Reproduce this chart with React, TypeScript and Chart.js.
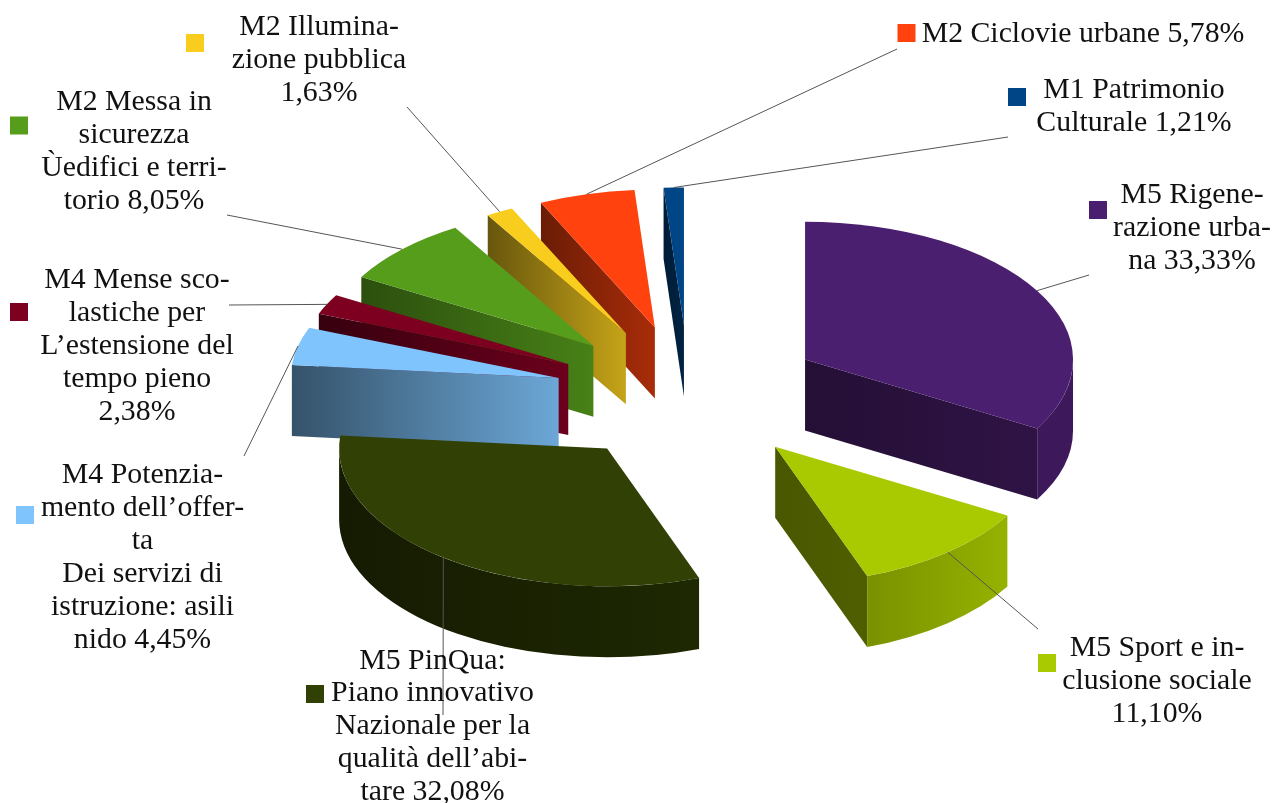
import React, { useEffect, useRef } from "react";
import { Chart, registerables } from "chart.js";

Chart.register(...registerables);

// Slices run clockwise from twelve o'clock.
const categories = [
  "M5 Rigenerazione urbana",
  "M5 Sport e inclusione sociale",
  "M5 PinQua: Piano innovativo Nazionale per la qualità dell’abitare",
  "M4 Potenziamento dell’offerta Dei servizi di istruzione: asili nido",
  "M4 Mense scolastiche per L’estensione del tempo pieno",
  "M2 Messa in sicurezza Ùedifici e territorio",
  "M2 Illuminazione pubblica",
  "M2 Ciclovie urbane",
  "M1 Patrimonio Culturale",
];
const values = [33.33, 11.1, 32.08, 4.45, 2.38, 8.05, 1.63, 5.78, 1.21];
const colors = ["#4b1f6f", "#a9ca00", "#314004", "#7fc4fd", "#7e0021", "#579d1c", "#f8cd1e", "#ff420e", "#004586"];

const labelLines = [
  ["M5 Rigene-", "razione urba-", "na 33,33%"],
  ["M5 Sport e in-", "clusione sociale", "11,10%"],
  ["M5 PinQua:", "Piano innovativo", "Nazionale per la", "qualità dell’abi-", "tare 32,08%"],
  ["M4 Potenzia-", "mento dell’offer-", "ta", "Dei servizi di", "istruzione: asili", "nido 4,45%"],
  ["M4 Mense sco-", "lastiche per", "L’estensione del", "tempo pieno", "2,38%"],
  ["M2 Messa in", "sicurezza", "Ùedifici e terri-", "torio 8,05%"],
  ["M2 Illumina-", "zione pubblica", "1,63%"],
  ["M2 Ciclovie urbane 5,78%"],
  ["M1 Patrimonio", "Culturale 1,21%"],
];

// Layout of the annotations: [text centre x, first baseline y]
const labelAnchors = [[1192, 203], [1157, 656], [432.5, 668.5], [142.5, 483], [137, 288], [134, 110], [319, 35], [1083, 42], [1134, 98]];
const swatchCorners = [[1089, 201], [1038, 654], [306, 685], [16, 506], [10, 303], [10, 116.5], [186, 34], [897.5, 24], [1008, 88]];
const leaderEnds = [[1089, 275], [1038, 629], [443, 715], [244, 456], [229, 305], [227, 215], [407, 107], [897, 49], [1008, 137]];

// Shade factors of the side walls, [left, right]
const radialShade = [[0.48, 0.62], [0.43, 0.47], [0.5, 0.5], [0.42, 0.85], [0.44, 0.85], [0.5, 0.82], [0.42, 0.8], [0.42, 0.66], [0.4, 0.5]];
const rimShade = [[0.82, 0.82], [0.72, 0.88], [0.42, 0.62], [0.5, 0.5], [0.5, 0.5], [0.5, 0.5], [0.5, 0.5], [0.5, 0.5], [0.5, 0.5]];

const RADIUS = 268;
const EXPLODE = 134;
const TILT = 0.514;
const DEPTH = 71;
const LINE_HEIGHT = 32.9;
const SWATCH = 18;
const FONT = '29.8px "Liberation Serif"';

function shade(hex: string, f: number) {
  const n = parseInt(hex.slice(1), 16);
  const c = [(n >> 16) & 255, (n >> 8) & 255, n & 255].map((v) => Math.round(v * f));
  return `rgb(${c[0]},${c[1]},${c[2]})`;
}

function apexOf(arc: any) {
  const mid = (arc.startAngle + arc.endAngle) / 2;
  return {
    mid,
    ax: arc.x + Math.cos(mid) * EXPLODE,
    ay: arc.y + Math.sin(mid) * EXPLODE * TILT,
  };
}

function gradient(ctx: CanvasRenderingContext2D, x0: number, x1: number, hex: string, f: number[]) {
  const g = ctx.createLinearGradient(x0, 0, x1, 0);
  g.addColorStop(0, shade(hex, f[0]));
  g.addColorStop(1, shade(hex, f[1]));
  return g;
}

const pie3d = {
  id: "pie3d",
  beforeDatasetDraw(chart: any) {
    const ctx: CanvasRenderingContext2D = chart.ctx;
    const arcs: any[] = chart.getDatasetMeta(0).data;
    const order = arcs
      .map((arc, i) => ({ arc, i, key: Math.sin((arc.startAngle + arc.endAngle) / 2) }))
      .sort((a, b) => a.key - b.key);

    for (const { arc, i } of order) {
      const { ax, ay } = apexOf(arc);
      const R = arc.outerRadius;
      const Ry = R * TILT;
      const hex = colors[i];

      // radial cut walls facing the viewer
      const walls = [
        { a: arc.startAngle, show: -Math.cos(arc.startAngle) > 1e-6 },
        { a: arc.endAngle, show: Math.cos(arc.endAngle) > 1e-6 },
      ];
      for (const w of walls) {
        if (!w.show) continue;
        const rx = ax + R * Math.cos(w.a);
        const ry = ay + Ry * Math.sin(w.a);
        ctx.beginPath();
        ctx.moveTo(ax, ay);
        ctx.lineTo(rx, ry);
        ctx.lineTo(rx, ry + DEPTH);
        ctx.lineTo(ax, ay + DEPTH);
        ctx.closePath();
        ctx.fillStyle = gradient(ctx, Math.min(ax, rx), Math.max(ax, rx), hex, radialShade[i]);
        ctx.fill();
      }

      // curved rim wall on the front half
      const a0 = Math.max(arc.startAngle, 0);
      const a1 = Math.min(arc.endAngle, Math.PI);
      if (a1 > a0) {
        const x0 = ax + R * Math.cos(a0);
        const x1 = ax + R * Math.cos(a1);
        ctx.beginPath();
        ctx.ellipse(ax, ay, R, Ry, 0, a0, a1);
        ctx.ellipse(ax, ay + DEPTH, R, Ry, 0, a1, a0, true);
        ctx.closePath();
        ctx.fillStyle = gradient(ctx, Math.min(x0, x1), Math.max(x0, x1), hex, rimShade[i]);
        ctx.fill();
      }

      // top face: the library's own arc element, moved out and tilted
      ctx.save();
      ctx.translate(ax, ay);
      ctx.scale(1, TILT);
      ctx.translate(-arc.x, -arc.y);
      arc.draw(ctx);
      ctx.restore();
    }
    return false;
  },
  afterDraw(chart: any) {
    const ctx: CanvasRenderingContext2D = chart.ctx;
    const arcs: any[] = chart.getDatasetMeta(0).data;
    ctx.save();
    // leader lines start at the middle of each slice's rim
    ctx.strokeStyle = "#555555";
    ctx.lineWidth = 1;
    arcs.forEach((arc, i) => {
      const { ax, ay, mid } = apexOf(arc);
      ctx.beginPath();
      ctx.moveTo(ax + arc.outerRadius * Math.cos(mid), ay + arc.outerRadius * TILT * Math.sin(mid));
      ctx.lineTo(leaderEnds[i][0], leaderEnds[i][1]);
      ctx.stroke();
    });
    // swatches and labels
    ctx.font = FONT;
    ctx.textAlign = "center";
    ctx.textBaseline = "alphabetic";
    arcs.forEach((_arc, i) => {
      ctx.fillStyle = colors[i];
      ctx.fillRect(swatchCorners[i][0], swatchCorners[i][1], SWATCH, SWATCH);
      ctx.fillStyle = "#111111";
      labelLines[i].forEach((line, j) => {
        ctx.fillText(line, labelAnchors[i][0], labelAnchors[i][1] + j * LINE_HEIGHT);
      });
    });
    ctx.restore();
  },
};

export default function App() {
  const ref = useRef<HTMLCanvasElement>(null);
  useEffect(() => {
    document.body.style.margin = "0";
    const chart = new Chart(ref.current as HTMLCanvasElement, {
      type: "pie",
      data: {
        labels: categories,
        datasets: [{ data: values, backgroundColor: colors, borderWidth: 0 }],
      },
      options: {
        animation: false,
        responsive: false,
        radius: RADIUS,
        layout: { padding: { left: 104, bottom: 15 } },
        plugins: { legend: { display: false }, tooltip: { enabled: false } },
      } as any,
      plugins: [pie3d as any],
    });
    return () => chart.destroy();
  }, []);
  return <canvas ref={ref} width={1274} height={803} style={{ display: "block", background: "#ffffff", filter: "blur(0.4px)" }} />;
}
